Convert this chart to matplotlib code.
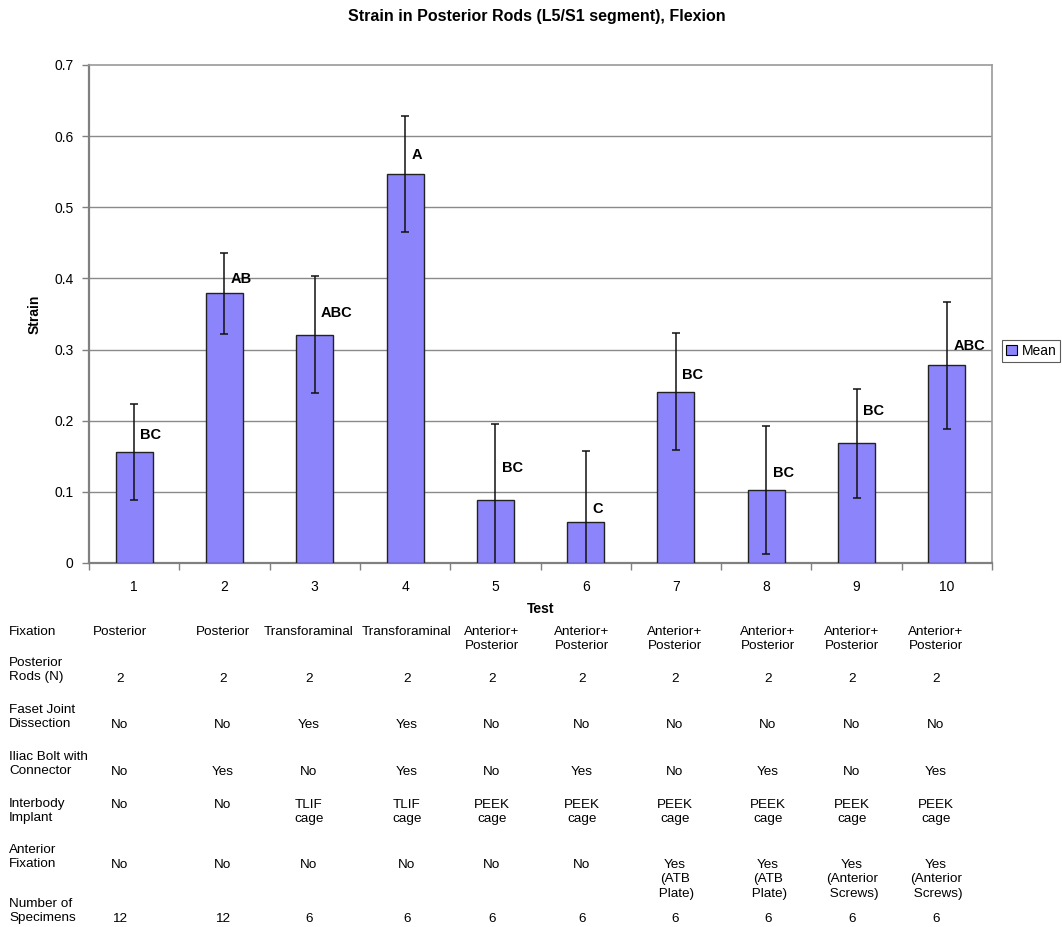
import matplotlib
matplotlib.use("Agg")
import matplotlib.pyplot as plt
from matplotlib.patches import Patch

# ---------------- data ----------------
tests = [1, 2, 3, 4, 5, 6, 7, 8, 9, 10]
mean_strain = [0.156, 0.379, 0.321, 0.547, 0.088, 0.058, 0.241, 0.102, 0.168, 0.278]
err_strain = [0.067, 0.057, 0.082, 0.082, 0.108, 0.100, 0.082, 0.090, 0.077, 0.089]
group_letters = ["BC", "AB", "ABC", "A", "BC", "C", "BC", "BC", "BC", "ABC"]
letter_y = [0.180, 0.399, 0.352, 0.574, 0.134, 0.076, 0.264, 0.127, 0.213, 0.305]

row_labels = ["Fixation", "Posterior\nRods (N)", "Faset Joint\nDissection",
              "Iliac Bolt with\nConnector", "Interbody\nImplant",
              "Anterior\nFixation", "Number of\nSpecimens"]
fixation = ["Posterior", "Posterior", "Transforaminal", "Transforaminal",
            "Anterior+\nPosterior", "Anterior+\nPosterior", "Anterior+\nPosterior",
            "Anterior+\nPosterior", "Anterior+\nPosterior", "Anterior+\nPosterior"]
posterior_rods = ["2"] * 10
facet_dissection = ["No", "No", "Yes", "Yes", "No", "No", "No", "No", "No", "No"]
iliac_bolt = ["No", "Yes", "No", "Yes", "No", "Yes", "No", "Yes", "No", "Yes"]
interbody = ["No", "No", "TLIF\ncage", "TLIF\ncage", "PEEK\ncage", "PEEK\ncage",
             "PEEK\ncage", "PEEK\ncage", "PEEK\ncage", "PEEK\ncage"]
anterior_fix = ["No", "No", "No", "No", "No", "No", "Yes\n(ATB\n Plate)",
                "Yes\n(ATB\n Plate)", "Yes\n(Anterior\n Screws)", "Yes\n(Anterior\n Screws)"]
n_specimens = ["12", "12", "6", "6", "6", "6", "6", "6", "6", "6"]

# ---------------- style ----------------
W, H = 1062, 927
plt.rcParams['font.family'] = ['Liberation Sans', 'DejaVu Sans']
fig = plt.figure(figsize=(W / 100, H / 100), dpi=100)
fig.patch.set_facecolor("white")

ax_l, ax_r, ax_t, ax_b = 89, 992, 65, 563
ax = fig.add_axes([ax_l / W, 1 - ax_b / H, (ax_r - ax_l) / W, (ax_b - ax_t) / H])

bar_color = "#8C84FA"
grey = "#808080"

ax.bar(tests, mean_strain, width=0.41, color=bar_color, edgecolor="#222222",
       linewidth=1.0, zorder=3)
ax.errorbar(tests, mean_strain, yerr=err_strain, fmt="none", ecolor="#111111",
            elinewidth=1.1, capsize=3, capthick=1.1, zorder=4)

for x, lab, ly in zip(tests, group_letters, letter_y):
    ax.text(x + 0.07, ly, lab, ha="left", va="center", fontsize=10.5,
            fontweight="bold", zorder=5)

ax.set_xlim(0.5, 10.5)
ax.set_ylim(0, 0.7)
ax.set_yticks([0, 0.1, 0.2, 0.3, 0.4, 0.5, 0.6, 0.7])
ax.set_yticklabels(["0", "0.1", "0.2", "0.3", "0.4", "0.5", "0.6", "0.7"])
ax.set_xticks(tests)
ax.set_xticklabels([str(t) for t in tests])
ax.set_xticks([t + 0.5 for t in [0] + tests], minor=True)
ax.tick_params(axis="x", which="major", length=0, pad=12, labelsize=10)
ax.tick_params(axis="x", which="minor", length=5, width=1, color=grey, direction="out")
ax.tick_params(axis="y", which="major", length=5, width=1, color=grey, direction="out",
               pad=6, labelsize=10)

for yv in [0.1, 0.2, 0.3, 0.4, 0.5, 0.6]:
    ax.axhline(yv, color="#8a8a8a", linewidth=1.0, zorder=1)

for side in ["left", "bottom"]:
    ax.spines[side].set_color(grey)
    ax.spines[side].set_linewidth(1.6)
for side in ["top", "right"]:
    ax.spines[side].set_color("#9a9a9a")
    ax.spines[side].set_linewidth(1.2)

ax.set_xlabel("Test", fontsize=10, fontweight="bold", labelpad=6)
ax.set_ylabel("Strain", fontsize=10, fontweight="bold", labelpad=9)

fig.text(537 / W, 1 - 16 / H, "Strain in Posterior Rods (L5/S1 segment), Flexion",
         ha="center", va="center", fontsize=11.5, fontweight="bold")

leg = fig.legend(handles=[Patch(facecolor=bar_color, edgecolor="black", linewidth=0.8,
                                label="Mean")],
                 loc="center left", bbox_to_anchor=(1002 / W, 1 - 351 / H),
                 frameon=True, fancybox=False, fontsize=10, handlelength=0.8,
                 handleheight=0.8, handletextpad=0.3, borderpad=0.3,
                 borderaxespad=0)
leg.get_frame().set_edgecolor("#333333")
leg.get_frame().set_linewidth(0.8)

# ---------------- table below chart ----------------
col_x = [120, 223, 309, 407, 492, 582, 675, 768, 852, 936]
rows = [fixation, posterior_rods, facet_dissection, iliac_bolt, interbody,
        anterior_fix, n_specimens]
# y (pixels) of the first line of each row label, and of the values
label_y = [629, 660, 707, 754, 801, 847, 901]
value_y = [629, 676, 722, 769, 802, 862, 916]
shift = 4.0
fs = 9.7
ls = 1.27

for lab, ly in zip(row_labels, label_y):
    fig.text(9 / W, 1 - (ly - 7 + shift) / H, lab, ha="left", va="top",
             fontsize=fs, linespacing=ls)

for vals, vy in zip(rows, value_y):
    for cx, v in zip(col_x, vals):
        fig.text(cx / W, 1 - (vy - 7 + shift) / H, v, ha="center", va="top",
                 fontsize=fs, linespacing=ls, multialignment="center")

fig.savefig("out.png", dpi=100, facecolor="white")
